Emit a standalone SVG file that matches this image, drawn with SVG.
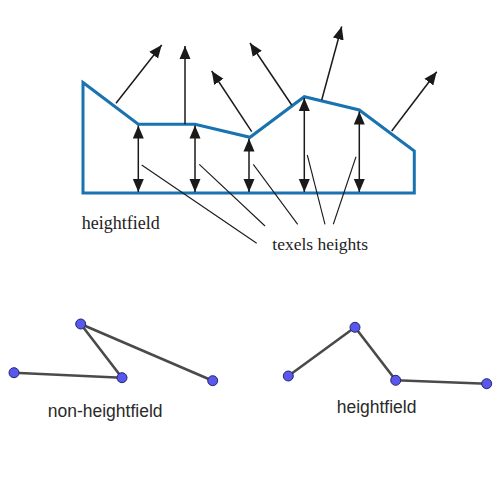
<svg xmlns="http://www.w3.org/2000/svg" width="500" height="500" viewBox="0 0 500 500">
<style>
.surf{fill:none;stroke:#1873b0;stroke-width:3;stroke-linejoin:miter}
.arr{stroke:#1a1a1a;stroke-width:1.5;fill:none}
.lead{stroke:#1a1a1a;stroke-width:1.1;fill:none}
.edge{stroke:#4a4a4a;stroke-width:2.6;stroke-linecap:round}
.pt{fill:#5858ee;stroke:#25256a;stroke-width:1}
.serif{font-family:"Liberation Serif","Times New Roman",serif;font-size:17.5px;fill:#222}
.sans{font-family:"Liberation Sans",Arial,sans-serif;font-size:17.5px;fill:#2a2a2a}
</style>
<defs>
<marker id="ah" markerUnits="userSpaceOnUse" markerWidth="14" markerHeight="12" refX="13" refY="5.5" orient="auto-start-reverse" viewBox="0 0 14 11">
<path d="M0,0 L13,5.5 L0,11 z" fill="#1a1a1a"/>
</marker>
</defs>
<g id="heightfield-shape">
<path class="surf" d="M83,82.5 L138.3,124.3 L195,124.3 L250,137.3 L304.3,96.7 L359.3,110 L414.3,151 L414.3,193 L83,193 Z"/>
</g>
<g id="connectors">
<line class="arr" x1="116" y1="103.3" x2="161.7" y2="45" marker-end="url(#ah)"/>
<line class="arr" x1="185" y1="124.3" x2="185" y2="46" marker-end="url(#ah)"/>
<line class="arr" x1="251.7" y1="131.7" x2="211.7" y2="71" marker-end="url(#ah)"/>
<line class="arr" x1="291.7" y1="105" x2="250" y2="43" marker-end="url(#ah)"/>
<line class="arr" x1="321.7" y1="100" x2="341.7" y2="26.5" marker-end="url(#ah)"/>
<line class="arr" x1="391.7" y1="131" x2="436.7" y2="71.7" marker-end="url(#ah)"/>
<line class="arr" x1="138.3" y1="125.5" x2="138.3" y2="192" marker-start="url(#ah)" marker-end="url(#ah)"/>
<line class="arr" x1="195" y1="125.5" x2="195" y2="192" marker-start="url(#ah)" marker-end="url(#ah)"/>
<line class="arr" x1="249" y1="138.5" x2="249" y2="192" marker-start="url(#ah)" marker-end="url(#ah)"/>
<line class="arr" x1="304.3" y1="98" x2="304.3" y2="192" marker-start="url(#ah)" marker-end="url(#ah)"/>
<line class="arr" x1="359.3" y1="111.5" x2="359.3" y2="192" marker-start="url(#ah)" marker-end="url(#ah)"/>
<line class="lead" x1="141.7" y1="165" x2="256.7" y2="243.3"/>
<line class="lead" x1="199.3" y1="164.3" x2="265" y2="226"/>
<line class="lead" x1="253.3" y1="164.3" x2="297.7" y2="224.3"/>
<line class="lead" x1="307.3" y1="155" x2="325" y2="224.3"/>
<line class="lead" x1="356" y1="156.7" x2="333.3" y2="224.3"/>
<line class="edge" x1="14" y1="372.7" x2="122" y2="377.7"/>
<line class="edge" x1="80.7" y1="324" x2="122" y2="377.7"/>
<line class="edge" x1="80.7" y1="324" x2="212.7" y2="380.7"/>
<line class="edge" x1="288.3" y1="376" x2="355" y2="327.3"/>
<line class="edge" x1="355" y1="327.3" x2="395.7" y2="380.3"/>
<line class="edge" x1="395.7" y1="380.3" x2="486.7" y2="383.7"/>
</g>
<g id="labels">
<text class="serif" x="81.7" y="229.3" style="font-size:18px">heightfield</text>
<text class="serif" x="272.3" y="250">texels heights</text>
<text class="sans" x="47.7" y="417.3">non-heightfield</text>
<text class="sans" x="336.7" y="412.7">heightfield</text>
</g>
<g id="n1"><circle class="pt" cx="14" cy="372.7" r="5"/></g>
<g id="n2"><circle class="pt" cx="80.7" cy="324" r="5"/></g>
<g id="n3"><circle class="pt" cx="122" cy="377.7" r="5"/></g>
<g id="n4"><circle class="pt" cx="212.7" cy="380.7" r="5"/></g>
<g id="m1"><circle class="pt" cx="288.3" cy="376" r="5"/></g>
<g id="m2"><circle class="pt" cx="355" cy="327.3" r="5"/></g>
<g id="m3"><circle class="pt" cx="395.7" cy="380.3" r="5"/></g>
<g id="m4"><circle class="pt" cx="486.7" cy="383.7" r="5"/></g>
</svg>
